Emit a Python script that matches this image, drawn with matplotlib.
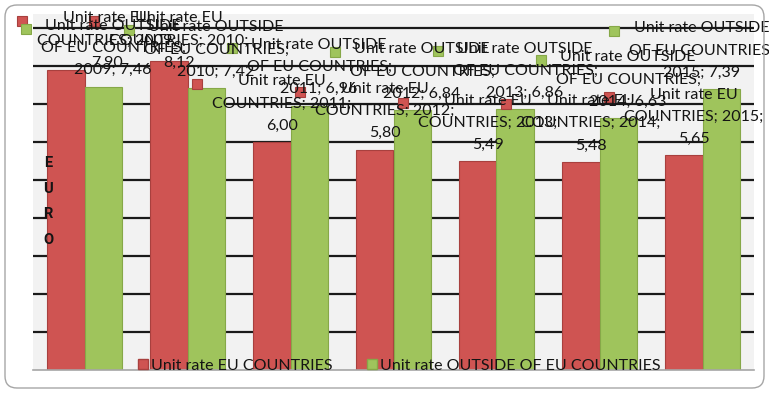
import matplotlib
matplotlib.use("Agg")
import matplotlib.pyplot as plt
import numpy as np
from matplotlib.patches import Rectangle, FancyBboxPatch, Patch
from matplotlib.transforms import IdentityTransform

years = [2009, 2010, 2011, 2012, 2013, 2014, 2015]
eu_rate = [7.90, 8.12, 6.00, 5.80, 5.49, 5.48, 5.65]
outside_rate = [7.46, 7.42, 6.96, 6.84, 6.86, 6.63, 7.39]
eu_name = "Unit rate EU COUNTRIES"
outside_name = "Unit rate OUTSIDE OF EU COUNTRIES"
axis_letters = ["E", "U", "R", "O"]

RED, RED_EDGE = "#cf5452", "#a8403e"
GREEN, GREEN_EDGE = "#9fc45c", "#86a848"
INK = "#141414"
W, H = 769, 393          # canvas size in pixels (dpi 100)
FS = 11.5                # label font size
LS = 1.75                # label line spacing
PX_PER_EURO = 38

plt.rcParams["font.family"] = ["Lato", "DejaVu Sans"]

fig = plt.figure(figsize=(W / 100, H / 100), dpi=100)
fig.patch.set_facecolor("white")
ax = fig.add_axes([33 / W, 23 / H, 721 / W, 356 / H])
ax.set_facecolor("#f2f2f2")

x = np.arange(len(years))
bw = 0.36
eu_bars = ax.bar(x - bw / 2, eu_rate, bw, color=RED, edgecolor=RED_EDGE, lw=0.8, zorder=2)
out_bars = ax.bar(x + bw / 2, outside_rate, bw, color=GREEN, edgecolor=GREEN_EDGE, lw=0.8, zorder=2)

ax.set_xlim(-0.5, len(years) - 0.5)
ax.set_ylim(0, 356 / PX_PER_EURO)
ax.set_yticks(range(1, 10))
ax.yaxis.grid(True, color="#1a1a1a", lw=1.6)
ax.set_axisbelow(True)
ax.tick_params(left=False, bottom=False, labelleft=False, labelbottom=False)
for s in ("top", "right", "left"):
    ax.spines[s].set_visible(False)
ax.spines["bottom"].set_color("#a6a6a6")
ax.spines["bottom"].set_linewidth(1.2)

renderer = fig.canvas.get_renderer()


def fmt(v):
    return f"{v:.2f}".replace(".", ",")


def place_label(bar, text, fc, ec):
    # excel-style "outside end" label with legend key, pushed back inside the chart area
    bx = bar.get_x() + bar.get_width() / 2
    top = ax.transData.transform((bx, bar.get_height()))
    t = fig.text(top[0] + 10, top[1], text, transform=IdentityTransform(), ha="center",
                 va="bottom", multialignment="center", fontsize=FS, linespacing=LS,
                 color=INK, zorder=4)
    bb = t.get_window_extent(renderer)
    pitch = bb.height / 3
    half = bb.width / 2
    cx = top[0] + 10
    y0 = top[1] + 19 - pitch / 2
    y0 = min(y0, H - 21 + pitch / 2 - 3 * pitch)
    cx = max(cx, 17 + 20 + half)
    cx = min(cx, 774 - half)
    t.set_position((cx, y0))
    yc = y0 + 2.5 * pitch
    key = Rectangle((cx - half - 20, yc - 5), 10, 10, transform=IdentityTransform(),
                    fc=fc, ec=ec, lw=0.8, zorder=4)
    fig.add_artist(key)


for yr, v, bar in zip(years, eu_rate, eu_bars):
    place_label(bar, f"Unit rate EU\nCOUNTRIES; {yr};\n{fmt(v)}", RED, RED_EDGE)
for yr, v, bar in zip(years, outside_rate, out_bars):
    place_label(bar, f"Unit rate OUTSIDE\nOF EU COUNTRIES;\n{yr}; {fmt(v)}", GREEN, GREEN_EDGE)

# vertical axis caption
for k, letter in enumerate(axis_letters):
    fig.text(48 / W, 1 - (163 + 25.5 * k) / H, letter, ha="center", va="center",
             fontsize=10.5, fontweight="bold", family=["Roboto", "DejaVu Sans"],
             color=INK, zorder=4)

handles = [Patch(fc=RED, ec=RED_EDGE), Patch(fc=GREEN, ec=GREEN_EDGE)]
ax.legend(handles, [eu_name, outside_name], ncol=2, loc="center",
          bbox_to_anchor=(0.508, 0.012), frameon=False, fontsize=FS,
          handlelength=0.6, handleheight=0.6, handletextpad=0.2,
          columnspacing=2.2, borderpad=0, labelcolor=INK)

# rounded chart-area border
fig.add_artist(FancyBboxPatch((5, 5), 759, 383, boxstyle="round,pad=0,rounding_size=12",
                              transform=IdentityTransform(), fc="none", ec="#a6a6a6",
                              lw=1.0, zorder=5))

fig.savefig("out.png", dpi=100)
